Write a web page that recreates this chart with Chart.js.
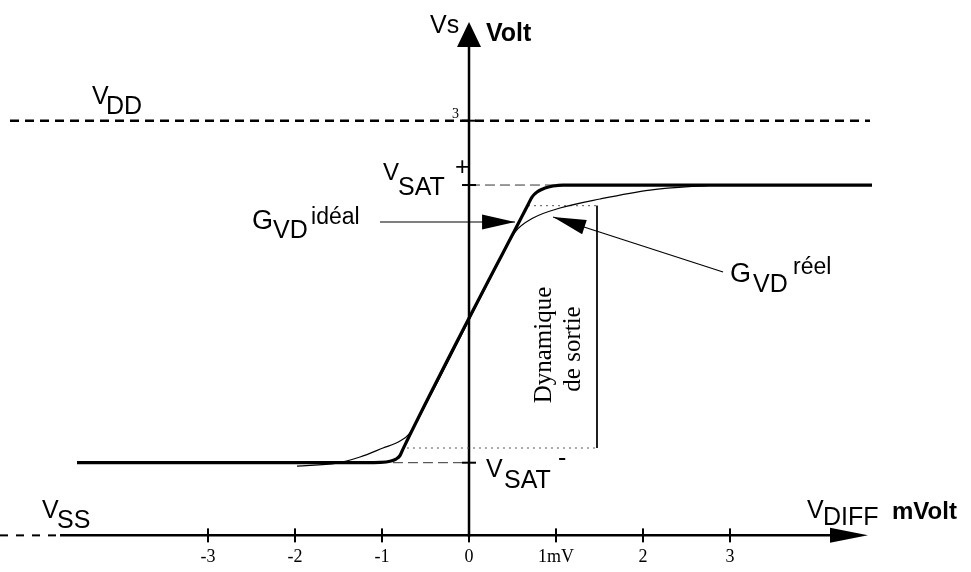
<!DOCTYPE html>
<html>
<head>
<meta charset="utf-8">
<script src="https://cdn.jsdelivr.net/npm/chart.js@4/dist/chart.umd.min.js"></script>
<style>
  html, body { margin: 0; padding: 0; background: #fff; }
  #wrap { width: 971px; height: 572px; position: relative; }
</style>
</head>
<body>
<div id="wrap"><canvas id="myChart"></canvas></div>
<script>
// x in mV (V_DIFF), y in Volt (Vs)
const xTicks = [-3, -2, -1, 0, 1, 2, 3];
const xTickLabels = ['-3', '-2', '-1', '0', '1mV', '2', '3'];

const vdd = 3;
const vsatPlus = 2.035;
const vsatMinus = -2.13;
const vss = -3.22;

// ideal transfer curve (thick)
const idealX = [-4.506, -1.195, -1.023, -0.908, -0.839, -0.793, -0.759, 0.678, 0.724, 0.782, 0.874, 0.966, 1.080, 4.632];
const idealY = [-2.13, -2.13, -2.126, -2.109, -2.075, -2.022, -1.926, 1.74, 1.855, 1.93, 1.99, 2.02, 2.035, 2.035];

// real transfer curve (thin)
const realX = [-1.977, -1.517, -1.253, -0.989, -0.793, -0.69, -0.448, 0.011, 0.356, 0.529, 0.736, 1.046, 1.506, 2.08, 2.805];
const realY = [-2.18, -2.135, -2.045, -1.91, -1.805, -1.70, -1.136, 0.0375, 0.9165, 1.33, 1.54, 1.69, 1.826, 1.96, 2.035];

// output swing box ("Dynamique de sortie")
const swingTop = 1.725;
const swingBottom = -1.9095;
const swingRight = 1.471;

const pts = (xs, ys) => xs.map((v, i) => ({ x: v, y: ys[i] }));
const hline = (x0, x1, yv) => [{ x: x0, y: yv }, { x: x1, y: yv }];

const SANS = "'Liberation Sans', Arial, sans-serif";
const SERIF = "'Liberation Serif', 'Times New Roman', serif";

const annotate = {
  id: 'annotate',
  afterDatasetsDraw(chart) {
    const { ctx, scales: { x, y } } = chart;
    const px = v => x.getPixelForValue(v);
    const py = v => y.getPixelForValue(v);

    ctx.save();
    ctx.fillStyle = '#000';
    ctx.strokeStyle = '#000';

    // arrow heads
    const head = (tx, ty, fx, fy, len, half) => {
      const x1 = px(tx), y1 = py(ty), x0 = px(fx), y0 = py(fy);
      const a = Math.atan2(y1 - y0, x1 - x0);
      ctx.beginPath();
      ctx.moveTo(x1, y1);
      ctx.lineTo(x1 - len * Math.cos(a) + half * Math.sin(a), y1 - len * Math.sin(a) - half * Math.cos(a));
      ctx.lineTo(x1 - len * Math.cos(a) - half * Math.sin(a), y1 - len * Math.sin(a) + half * Math.cos(a));
      ctx.closePath();
      ctx.fill();
    };
    head(0, 4.4805, 0, 0, 25, 12);
    head(4.586, vss, 0, vss, 38, 7.5);

    // annotation arrows
    const arrow = (fx, fy, tx, ty) => {
      ctx.lineWidth = 1.2;
      ctx.beginPath();
      ctx.moveTo(px(fx), py(fy));
      ctx.lineTo(px(tx), py(ty));
      ctx.stroke();
      head(tx, ty, fx, fy, 33, 7.5);
    };
    arrow(-1.023, 1.4805, 0.529, 1.4805);
    arrow(2.92, 0.7305, 0.966, 1.5555);

    // ticks
    ctx.lineWidth = 2;
    xTicks.forEach(v => {
      ctx.beginPath();
      ctx.moveTo(px(v), py(vss) - 7);
      ctx.lineTo(px(v), py(vss) + 7);
      ctx.stroke();
    });
    [vdd, vsatPlus, vsatMinus].forEach(v => {
      ctx.beginPath();
      ctx.moveTo(px(0) - 7, py(v));
      ctx.lineTo(px(0) + 7, py(v));
      ctx.stroke();
    });

    // tick labels
    ctx.font = '18px ' + SERIF;
    ctx.textAlign = 'center';
    ctx.textBaseline = 'alphabetic';
    xTicks.forEach((v, i) => ctx.fillText(xTickLabels[i], px(v), py(vss) + 27));

    // texts
    const txt = (s, xv, yv, font, align) => {
      ctx.font = font;
      ctx.textAlign = align || 'left';
      ctx.fillText(s, px(xv), py(yv));
    };
    txt('3', -0.195, 3.0405, '14px ' + SERIF);
    txt('Vs', -0.448, 4.316, '25px ' + SANS);
    txt('Volt', 0.195, 4.196, 'bold 25px ' + SANS);

    txt('V', -4.333, 3.2505, '25px ' + SANS);
    txt('DD', -4.172, 3.1005, '25px ' + SANS);

    txt('V', -0.989, 2.1105, '24px ' + SANS);
    txt('SAT', -0.816, 1.8855, '25px ' + SANS);
    txt('+', -0.161, 2.1855, '25px ' + SANS);

    txt('V', 0.195, -2.3445, '25px ' + SANS);
    txt('SAT', 0.402, -2.5095, '25px ' + SANS);
    txt('-', 1.023, -2.1795, '25px ' + SANS);

    txt('V', -4.908, -2.9595, '25px ' + SANS);
    txt('SS', -4.736, -3.1095, '25px ' + SANS);

    txt('V', 3.885, -2.9595, '25px ' + SANS);
    txt('DIFF', 4.069, -3.0645, '25px ' + SANS);
    txt('mVolt', 4.862, -2.9745, 'bold 24px ' + SANS);

    txt('G', -2.494, 1.3755, '27px ' + SANS);
    txt('VD', -2.253, 1.2405, '25px ' + SANS);
    txt('idéal', -1.816, 1.4505, '23px ' + SANS);

    txt('G', 3.0, 0.5805, '27px ' + SANS);
    txt('VD', 3.264, 0.4305, '25px ' + SANS);
    txt('réel', 3.724, 0.7005, '23px ' + SANS);

    // rotated serif text
    ctx.font = '25px ' + SERIF;
    ctx.textAlign = 'center';
    ctx.textBaseline = 'middle';
    [['Dynamique', 0.862, -0.3645], ['de sortie', 1.195, -0.4245]].forEach(([s, xv, yv]) => {
      ctx.save();
      ctx.translate(px(xv), py(yv));
      ctx.rotate(-Math.PI / 2);
      ctx.fillText(s, 0, 0);
      ctx.restore();
    });

    ctx.restore();
  }
};

const line = (data, extra) => Object.assign({
  data, showLine: true, borderColor: '#000', borderWidth: 1, pointRadius: 0, fill: false
}, extra);

new Chart(document.getElementById('myChart'), {
  type: 'scatter',
  data: {
    datasets: [
      line(pts(idealX, idealY), { borderWidth: 3.2, cubicInterpolationMode: 'monotone', order: 0 }),
      line(pts(realX, realY), { borderWidth: 1.2, cubicInterpolationMode: 'monotone', order: 1 }),
      line(hline(-5.276, 4.609, vdd), { borderWidth: 2.5, borderDash: [9, 6], order: 2 }),
      line(hline(0.011, 1.011, vsatPlus), { borderDash: [10, 5], borderColor: '#333', order: 2 }),
      line(hline(-0.874, 0, vsatMinus), { borderDash: [10, 5], borderColor: '#333', order: 2 }),
      line(hline(-5.391, -4.724, vss), { borderWidth: 2, borderDash: [8, 8], order: 2 }),
      line(hline(0.678, swingRight, swingTop), { borderDash: [2, 4], borderColor: '#555', order: 2 }),
      line(hline(-0.713, swingRight, swingBottom), { borderDash: [2, 4], borderColor: '#555', order: 2 }),
      line([{ x: swingRight, y: swingTop }, { x: swingRight, y: swingBottom }], { order: 2 }),
      line(hline(-4.701, 4.149, vss), { borderWidth: 2.5, order: 2 }),
      line([{ x: 0, y: -3.2445 }, { x: 0, y: 4.1055 }], { borderWidth: 2.5, order: 2 })
    ]
  },
  options: {
    responsive: true,
    maintainAspectRatio: false,
    animation: false,
    layout: { padding: 0 },
    plugins: { legend: { display: false }, tooltip: { enabled: false } },
    scales: {
      x: { type: 'linear', min: -5.391, max: 5.770, display: false },
      y: { type: 'linear', min: -3.7695, max: 4.8105, display: false }
    }
  },
  plugins: [annotate]
});
</script>
</body>
</html>
